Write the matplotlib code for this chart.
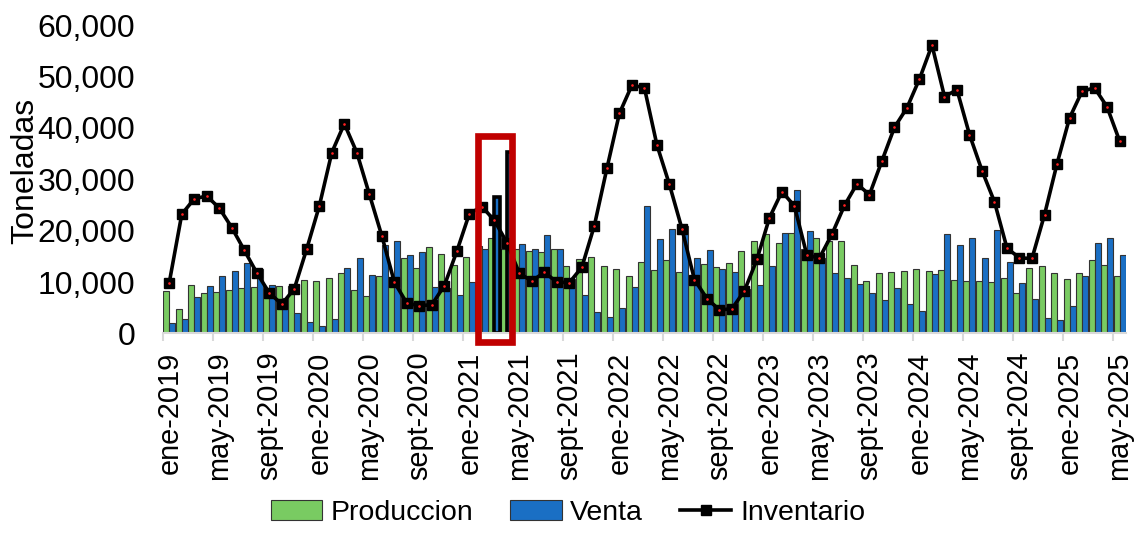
import matplotlib
matplotlib.use("Agg")
import matplotlib.pyplot as plt
from matplotlib.patches import Rectangle
from matplotlib.ticker import FuncFormatter
import numpy as np

plt.rcParams['font.family'] = ['Liberation Sans', 'DejaVu Sans']

month_names = ["ene", "feb", "mar", "abr", "may", "jun", "jul", "ago", "sept", "oct", "nov", "dic"]
categories = [f"{m}-{y}" for y in range(2019, 2026) for m in month_names][:77]

produccion = [8300, 4700, 9500, 7900, 8100, 8400, 8900, 9100, 6900, 9200, 9300, 10400, 10200,
              10800, 11700, 8500, 7300, 11200, 10600, 14600, 12800, 16900, 15400, 13400, 14900,
              17000, 18600, 16500, 16500, 16000, 15800, 16500, 13200, 14500, 14900, 13200, 12500,
              11200, 14000, 12300, 14200, 11900, 10500, 13600, 12900, 13800, 16100, 18000, 19300,
              17600, 19600, 16500, 18600, 18000, 18000, 13300, 10300, 11800, 11900, 12100, 12500,
              12100, 12400, 10500, 10200, 10200, 10100, 10800, 7800, 12800, 13200, 11800, 10600,
              11700, 14300, 13400, 11100]

venta = [2100, 2900, 7100, 9300, 11200, 12100, 13700, 12500, 9400, 7000, 4000, 2300, 1500,
         2800, 12800, 14700, 11300, 17200, 18000, 15300, 15900, 9100, 8800, 7400, 10100,
         16500, 26600, 35300, 17500, 16500, 19100, 16500, 10600, 7500, 4200, 3300, 4900,
         9100, 24800, 18300, 20400, 20900, 14700, 16200, 12600, 12000, 8600, 9500, 13200,
         19600, 27900, 20000, 14700, 11700, 10800, 9700, 7800, 6600, 8800, 5800, 4300,
         11500, 19400, 17300, 18500, 14700, 20200, 13900, 9800, 6700, 3100, 2700, 5400,
         11200, 17700, 18500, 15200]

inventario = [9900, 23200, 26200, 26750, 24400, 20600, 16200, 11800, 7900, 5700, 8700, 16500, 24800,
              35200, 40800, 35200, 27100, 19000, 10000, 5900, 5400, 5600, 9300, 16000, 23300,
              24700, 22000, 17700, 11700, 10200, 11900, 10000, 9900, 12900, 21000, 32100, 42800,
              48300, 47800, 36700, 29000, 20400, 10500, 6800, 4600, 4800, 8300, 14400, 22500,
              27600, 24800, 15200, 14700, 19300, 24900, 29100, 27000, 33600, 40100, 43900, 49500,
              56100, 46100, 47400, 38700, 31700, 25600, 16600, 14700, 14600, 23100, 33000, 41900,
              47100, 47800, 44100, 37500]

highlight = [26, 27]          # months with outlined sales bars
box_months = (25, 27)         # months enclosed by the red frame

GREEN = "#79cb62"
BLUE = "#1a6fc4"

fig = plt.figure(figsize=(11.36, 5.33), dpi=100)
ax = fig.add_axes([0.1435, 0.3743, 0.8475, 0.5787])

x = np.arange(len(categories))
w = 0.48
hb1 = ax.bar(x - w / 2, produccion, width=w, color=GREEN, edgecolor="#333333", linewidth=0.8, label="Produccion")
vb = ax.bar(x + w / 2, venta, width=w, color=BLUE, edgecolor="#333333", linewidth=0.8, label="Venta")
for i in highlight:
    vb[i].set_edgecolor("black")
    vb[i].set_linewidth(2.6)

ln, = ax.plot(x, inventario, color="black", linewidth=2.6, marker="s", markersize=6.8,
              markerfacecolor="black", markeredgecolor="black", label="Inventario", zorder=4)
ax.plot(x, inventario, linestyle="none", marker="o", markersize=0.9, color="#ff2020", zorder=5)

# red frame
x0 = box_months[0] - 0.3
x1 = box_months[1] + 0.44
rect = Rectangle((x0, -1560), x1 - x0, 38400 + 1560, fill=False, edgecolor="#c00000",
                 linewidth=4.8, clip_on=False, zorder=6)
ax.add_patch(rect)

ax.set_xlim(-0.5, len(categories) - 0.5)
ax.set_ylim(0, 60000)
ax.set_yticks(np.arange(0, 60001, 10000))
ax.yaxis.set_major_formatter(FuncFormatter(lambda v, p: f"{int(v):,}"))
ax.tick_params(axis="y", length=0, pad=20, labelsize=23)

label_idx = list(range(0, len(categories), 4))
ax.set_xticks(label_idx)
ax.set_xticklabels([categories[i] for i in label_idx], rotation=90, fontsize=20.8)
ax.set_xticks(np.arange(-0.5, len(categories), 4), minor=True)
ax.tick_params(axis="x", which="major", length=0, pad=13)
ax.tick_params(axis="x", which="minor", length=6, width=1.5, color="#d9d9d9")

for s in ["top", "right", "left"]:
    ax.spines[s].set_visible(False)
ax.spines["bottom"].set_color("#d9d9d9")
ax.spines["bottom"].set_linewidth(1.5)

fig.text(25 / 1136, 1 - 171 / 533, "Toneladas", rotation=90, fontsize=23, ha="center", va="center")

fig.legend([hb1, vb, ln], ["Produccion", "Venta", "Inventario"], loc="lower center",
           bbox_to_anchor=(0.5, -0.035), ncol=3, frameon=False,
           fontsize=20.5, handlelength=1.8, handletextpad=0.3, columnspacing=1.3)

fig.savefig("out.png", dpi=100)
